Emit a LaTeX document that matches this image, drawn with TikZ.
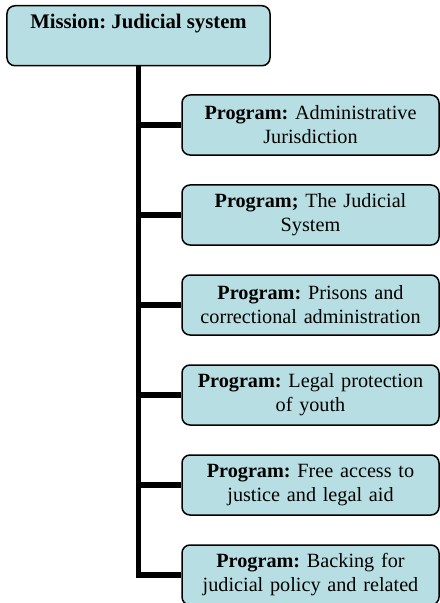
\documentclass[tikz,border=0pt]{standalone}
\usepackage{fontspec}
\setmainfont{Liberation Serif}
\usepackage{tikz}
\frenchspacing
\definecolor{boxfill}{RGB}{183,223,227}
\tikzset{
  missionbox/.style={draw=black, line width=1.5bp, fill=boxfill, rounded corners=8bp,
    minimum width=263bp, inner ysep=10bp, text height=13bp, text depth=27bp, anchor=north,
    font=\fontsize{20.8}{24}\selectfont},
  progbox/.style={draw=black, line width=1.5bp, fill=boxfill, rounded corners=8bp,
    minimum width=257bp, minimum height=60bp, text width=250bp, align=center, inner sep=2bp,
    font=\fontsize{20.3}{24}\selectfont},
  branch/.style={line width=5.5bp}
}
\begin{document}
\begin{tikzpicture}[x=1bp,y=-1bp]
			\useasboundingbox (0,0) rectangle (440,603); % page size
			\node[missionbox] (mission) at (138.5,5) {\textbf{Mission: Judicial system}}; % draw mission box
			\node[progbox] (admin) at (310.5,125) {\textbf{Program:} Administrative\\Jurisdiction}; % draw program boxes
			\node[progbox] (judicial) at (310.5,215) {\textbf{Program;} The Judicial\\System};
			\node[progbox] (prisons) at (310.5,305) {\textbf{Program:} Prisons and\\correctional administration};
			\node[progbox] (youth) at (310.5,395) {\textbf{Program:} Legal protection\\of youth};
			\node[progbox] (access) at (310.5,485) {\textbf{Program:} Free access to\\justice and legal aid};
			\node[progbox] (backing) at (310.5,575) {\textbf{Program:} Backing for\\judicial policy and related};
			\draw[branch] (mission.south) -- (mission.south |- backing.west) -- (backing.west); % draw trunk
			\draw[branch] (mission.south |- admin.west) -- (admin.west); % draw branches
			\draw[branch] (mission.south |- judicial.west) -- (judicial.west);
			\draw[branch] (mission.south |- prisons.west) -- (prisons.west);
			\draw[branch] (mission.south |- youth.west) -- (youth.west);
			\draw[branch] (mission.south |- access.west) -- (access.west);
		\end{tikzpicture}
\end{document}
